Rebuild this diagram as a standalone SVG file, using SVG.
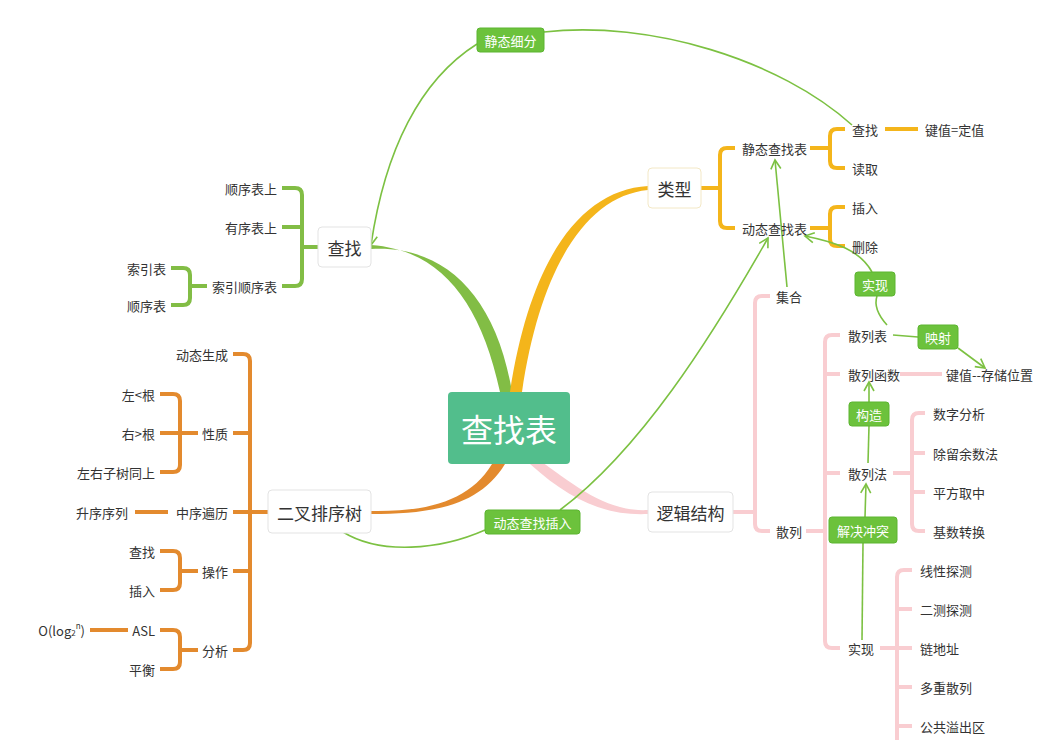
<svg xmlns="http://www.w3.org/2000/svg" width="1059" height="745" viewBox="0 0 1059 745">
<defs>
<style>
text{font-family:"Noto Sans CJK SC","Liberation Sans",sans-serif;fill:#333;font-size:13px;dominant-baseline:central}
.r{text-anchor:end}
.node{fill:#fff;stroke:#e3e3e3;stroke-width:1}
.g{fill:none;stroke:#82bd45;stroke-width:4;stroke-linejoin:round}
.o{fill:none;stroke:#e38a2e;stroke-width:4;stroke-linejoin:round}
.y{fill:none;stroke:#f4b51b;stroke-width:4;stroke-linejoin:round}
.p{fill:none;stroke:#f9cdd1;stroke-width:4;stroke-linejoin:round}
.a{fill:none;stroke:#7cc142;stroke-width:1.6}
.lab{fill:#6cc23c;stroke:#5cb530;stroke-width:1}
.lt{fill:#fff;font-size:13px;text-anchor:middle}
</style>
<marker id="ar" viewBox="0 0 12 12" refX="10" refY="6" markerWidth="12" markerHeight="12" markerUnits="userSpaceOnUse" orient="auto"><path d="M1,1 L10,6 L1,11" fill="none" stroke="#7cc142" stroke-width="1.6"/></marker>
</defs>
<rect width="1059" height="745" fill="#fff"/>
<g id="connectors">
<path d="M371,245 C440,250 480,300 500,392 L512,392 C495,290 440,245 371,249 Z" fill="#82bd45"/>
<path d="M648,186 C580,190 530,260 510,392 L522,392 C540,270 585,196 648,190 Z" fill="#f4b51b"/>
<path d="M542,462 C580,490 610,512 648,510 L648,514 C605,516 570,500 530,464 Z" fill="#f9cdd1"/>
<path d="M371,511 C430,512 470,500 492,464 L505,464 C480,505 435,514 371,514 Z" fill="#e38a2e"/>
<path class="g" d="M282,188 H295 Q302,188 302,195 V279 Q302,286 295,286 H282 M282,227 H302 M302,247 H318"/>
<path class="g" d="M171,268 H183 Q190,268 190,275 V298 Q190,305 183,305 H171 M190,286 H207"/>
<path class="y" d="M701,188 H720 M735,148 H727 Q720,148 720,155 V221 Q720,228 727,228 H735"/>
<path class="y" d="M810,148 H830 M845,129 H837 Q830,129 830,136 V161 Q830,168 837,168 H845"/>
<path class="y" d="M810,228 H830 M845,207 H837 Q830,207 830,214 V239 Q830,246 837,246 H845"/>
<path class="y" d="M885,129 H918"/>
<path class="p" d="M733,512 H755 M770,296 H762 Q755,296 755,303 V524 Q755,531 762,531 H770"/>
<path class="p" d="M806,531 H825 M840,335 H832 Q825,335 825,342 V641 Q825,648 832,648 H840"/>
<path class="p" d="M825,374 H840 M825,473 H840 M900,374 H942"/>
<path class="p" d="M893,473 H912 M925,413 H919 Q912,413 912,420 V524 Q912,531 919,531 H925 M912,453 H925 M912,492 H925"/>
<path class="p" d="M880,648 H897 M912,570 H904 Q897,570 897,577 V740 M897,609 H912 M897,648 H912 M897,687 H912 M897,726 H912"/>
<path class="o" d="M250,512 H268 M233,354 H243 Q250,354 250,361 V643 Q250,650 243,650 H233 M233,433 H250 M233,512 H250 M233,571 H250"/>
<path class="o" d="M160,394 H173 Q180,394 180,401 V465 Q180,472 173,472 H160 M160,433 H198"/>
<path class="o" d="M135,512 H168"/>
<path class="o" d="M160,551 H173 Q180,551 180,558 V583 Q180,590 173,590 H160 M180,571 H198"/>
<path class="o" d="M160,630 H173 Q180,630 180,637 V662 Q180,669 173,669 H160 M180,650 H198"/>
<path class="o" d="M90,630 H128"/>
<path class="a" d="M852,125 C780,60 650,20 544,32"/>
<path class="a" d="M477,44 C420,80 385,150 371,245" marker-end="url(#ar)"/>
<path class="a" d="M343,532 C380,555 440,550 485,530"/>
<path class="a" d="M560,510 C640,450 710,340 768,238" marker-end="url(#ar)"/>
<path class="a" d="M787,287 L775,160" marker-end="url(#ar)"/>
<path class="a" d="M887,325 C878,315 874,305 877,296"/>
<path class="a" d="M872,272 C860,250 835,242 805,236" marker-end="url(#ar)"/>
<path class="a" d="M893,335 L918,337"/>
<path class="a" d="M958,348 L985,368" marker-end="url(#ar)"/>
<path class="a" d="M868,463 L869,426"/>
<path class="a" d="M869,402 L869,382" marker-end="url(#ar)"/>
<path class="a" d="M862,640 L863,543"/>
<path class="a" d="M865,517 L866,484" marker-end="url(#ar)"/>
</g>
<g id="root"><rect x="448" y="392" width="122" height="72" rx="4" fill="#52be8c"/><text x="509" y="428" style="font-size:32px;fill:#fff;text-anchor:middle">查找表</text></g>
<g id="n-chazhao"><rect class="node" x="318" y="227" width="53" height="40" rx="4"/><text x="344.5" y="247" style="font-size:17px;text-anchor:middle">查找</text></g>
<g id="n-leixing"><rect class="node" x="648" y="168" width="53" height="40" rx="4" style="stroke:#f3e8c6"/><text x="674.5" y="188" style="font-size:17px;text-anchor:middle">类型</text></g>
<g id="n-luoji"><rect class="node" x="648" y="492" width="85" height="40" rx="4"/><text x="690.5" y="512" style="font-size:17px;text-anchor:middle">逻辑结构</text></g>
<g id="n-tree"><rect class="node" x="268" y="490" width="103" height="43" rx="4"/><text x="319.5" y="512" style="font-size:17px;text-anchor:middle">二叉排序树</text></g>
<g id="leaves-green">
<text class="r" x="277" y="188">顺序表上</text><text class="r" x="277" y="227">有序表上</text><text class="r" x="277" y="286">索引顺序表</text>
<text class="r" x="166" y="268">索引表</text><text class="r" x="166" y="305">顺序表</text>
</g>
<g id="leaves-yellow">
<text x="742" y="148">静态查找表</text><text x="742" y="228">动态查找表</text>
<text x="852" y="129">查找</text><text x="852" y="168">读取</text><text x="852" y="207">插入</text><text x="852" y="246">删除</text>
<text x="925" y="129">键值=定值</text>
</g>
<g id="leaves-pink">
<text x="776" y="296">集合</text><text x="776" y="531">散列</text>
<text x="848" y="335">散列表</text><text x="848" y="374">散列函数</text><text x="848" y="473">散列法</text><text x="848" y="648">实现</text>
<text x="946" y="374">键值--存储位置</text>
<text x="933" y="413">数字分析</text><text x="933" y="453">除留余数法</text><text x="933" y="492">平方取中</text><text x="933" y="531">基数转换</text>
<text x="920" y="570">线性探测</text><text x="920" y="609">二测探测</text><text x="920" y="648">链地址</text><text x="920" y="687">多重散列</text><text x="920" y="726">公共溢出区</text>
</g>
<g id="leaves-orange">
<text class="r" x="228" y="354">动态生成</text><text class="r" x="228" y="433">性质</text><text class="r" x="228" y="512">中序遍历</text><text class="r" x="228" y="571">操作</text><text class="r" x="228" y="650">分析</text>
<text class="r" x="155" y="394">左&lt;根</text><text class="r" x="155" y="433">右&gt;根</text><text class="r" x="155" y="472">左右子树同上</text>
<text class="r" x="128" y="512">升序序列</text>
<text class="r" x="155" y="551">查找</text><text class="r" x="155" y="590">插入</text>
<text class="r" x="155" y="630">ASL</text><text class="r" x="155" y="669">平衡</text>
<text class="r" x="85" y="630">O(log<tspan style="font-size:8px" dy="2">2</tspan><tspan style="font-size:8px" dy="-7">n</tspan><tspan dy="5">)</tspan></text>
</g>
<g id="labels">
<g id="l-jingtai"><rect class="lab" x="477" y="28" width="67" height="24" rx="3"/><text class="lt" x="510.5" y="40">静态细分</text></g>
<g id="l-dongtai"><rect class="lab" x="485" y="510" width="95" height="24" rx="3"/><text class="lt" x="532.5" y="522">动态查找插入</text></g>
<g id="l-shixian"><rect class="lab" x="855" y="272" width="40" height="24" rx="3"/><text class="lt" x="875" y="284">实现</text></g>
<g id="l-yingshe"><rect class="lab" x="918" y="325" width="40" height="24" rx="3"/><text class="lt" x="938" y="337">映射</text></g>
<g id="l-gouzao"><rect class="lab" x="849" y="402" width="40" height="24" rx="3"/><text class="lt" x="869" y="414">构造</text></g>
<g id="l-jiejue"><rect class="lab" x="829" y="517" width="68" height="26" rx="3"/><text class="lt" x="863" y="530">解决冲突</text></g>
</g>
</svg>
